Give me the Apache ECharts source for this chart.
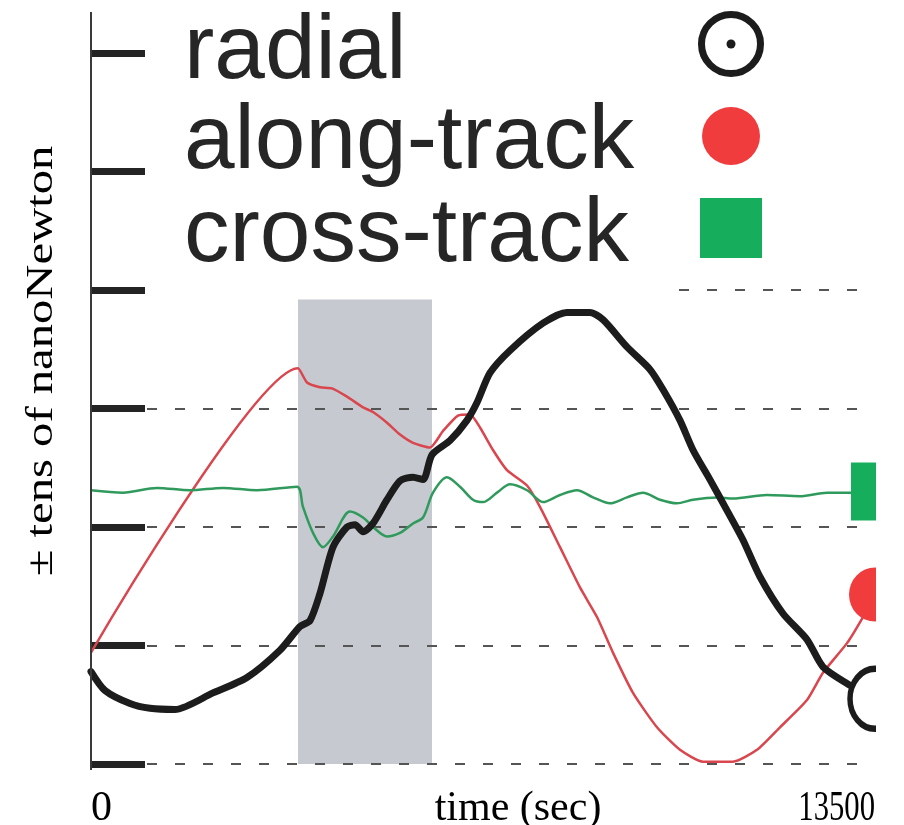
<!DOCTYPE html>
<html>
<head>
<meta charset="utf-8">
<script src="https://cdn.jsdelivr.net/npm/echarts@6/dist/echarts.min.js"></script>
<style>
  html, body { margin: 0; padding: 0; background: #fff; }
  #chart { width: 904px; height: 825px; }
</style>
</head>
<body>
<div id="chart"></div>
<script>
// --- data (time in sec, force in tens of nN) ---
const radial = [
    [0, -2.22], [241, -2.38], [672, -2.49], [1016, -2.53], [1446, -2.54], [2101, -2.40],
    [2686, -2.27], [3254, -2.04], [3599, -1.84], [3771, -1.79], [3943, -1.56], [4167, -1.17],
    [4408, -1.00], [4546, -0.98], [4684, -1.04], [4856, -0.97], [5097, -0.77], [5321, -0.61],
    [5545, -0.58], [5717, -0.60], [5872, -0.39], [6182, -0.27], [6474, -0.10], [6647, 0.05],
    [6870, 0.30], [7215, 0.49], [7783, 0.72], [8196, 0.81], [8592, 0.81], [8816, 0.75],
    [9229, 0.52], [9625, 0.33], [9849, 0.16], [10142, -0.10], [10366, -0.35], [10658, -0.60],
    [10951, -0.86], [11227, -1.11], [11519, -1.42], [11915, -1.73], [12329, -1.95],
    [12604, -2.18], [13018, -2.32], [13500, -2.45]
]
const alongTrack = [
    [0, -2.06], [3564, 0.34], [3719, 0.22], [3943, 0.18], [4150, 0.17], [4408, 0.10],
    [4684, 0.01], [4856, -0.03], [5097, -0.12], [5321, -0.22], [5545, -0.29], [5837, -0.33],
    [6061, -0.19], [6319, -0.06], [6526, -0.05], [6698, -0.16], [6922, -0.35], [7163, -0.52],
    [7508, -0.65], [7731, -0.83], [8076, -1.17], [8420, -1.51], [8713, -1.76], [8988, -2.06],
    [9333, -2.40], [9746, -2.69], [10142, -2.88], [10538, -2.98], [11054, -2.98], [11468, -2.88],
    [11864, -2.69], [12329, -2.46], [12604, -2.23], [13018, -1.98], [13293, -1.76], [13500, -1.57]
]
const crossTrack = [
    [0, -0.69], [551, -0.71], [1136, -0.67], [1705, -0.69], [2273, -0.67], [2858, -0.69],
    [3547, -0.66], [3650, -0.83], [3823, -1.05], [3995, -1.17], [4167, -1.08], [4460, -0.87],
    [4684, -0.92], [4856, -1.00], [5097, -1.08], [5321, -1.05], [5545, -0.97], [5717, -0.92],
    [5889, -0.71], [6130, -0.58], [6354, -0.66], [6578, -0.77], [6750, -0.79], [6991, -0.71],
    [7215, -0.64], [7508, -0.69], [7783, -0.79], [8076, -0.73], [8368, -0.69], [8644, -0.75],
    [8937, -0.80], [9229, -0.75], [9505, -0.71], [9798, -0.77], [10090, -0.80], [10366, -0.77],
    [10779, -0.75], [11054, -0.76], [11640, -0.73], [12208, -0.74], [12673, -0.71],
    [13070, -0.71], [13500, -0.70]
]
// shaded interval [start, end] in sec, and its vertical extent
const shadeX = [3564, 5872]
const shadeY = [0.92, -3.07]

const seriesNames = ['radial', 'along-track', 'cross-track']
const xTickLabels = ['0', '13500']
const xAxisName = 'time (sec)'
const yAxisName = '\u00b1 tens of nanoNewton'
const xMin = 0, xMax = 13500
const yMin = -3, yMax = 3, yStep = 1

// put a marker only on the last point of a series
function withEndMarker(arr, marker) {
    return arr.map((p, i) => i === arr.length - 1 ? Object.assign({value: p}, marker) : p)
}

const chart = echarts.init(document.getElementById('chart'))
const serif = 'Liberation Serif'
const sans = 'Liberation Sans'

const option = {
    animation: false,
    grid: {left: 91, right: 29, top: 53, bottom: 61},
    xAxis: {
        type: 'value', min: xMin, max: xMax,
        axisLine: {show: false}, axisTick: {show: false},
        axisLabel: {show: false}, splitLine: {show: false}
    },
    yAxis: {
        type: 'value', min: yMin, max: yMax, interval: yStep, z: 1.5,
        axisLine: {show: true, lineStyle: {color: '#3a3a3a', width: 2}},
        axisTick: {show: true, inside: true, length: 54, lineStyle: {color: '#242424', width: 7}},
        axisLabel: {show: false},
        splitLine: {show: true, lineStyle: {color: '#555', width: 2, type: [10, 18]}}
    },
    series: [
        {
            type: 'line', data: [], z: 1, silent: true,
            markArea: {
                silent: true,
                itemStyle: {color: '#c6cad0'},
                data: [[{xAxis: shadeX[0], yAxis: shadeY[0]}, {xAxis: shadeX[1], yAxis: shadeY[1]}]]
            },
            clip: false
        },
        {
            name: seriesNames[1], type: 'line', z: 2, smooth: 0.2,
            symbol: 'none',
            lineStyle: {color: '#d9464e', width: 2.5},
            data: withEndMarker(alongTrack, {symbol: 'circle', symbolSize: [52, 54], itemStyle: {color: '#f03c3c'}})
        },
        {
            name: seriesNames[2], type: 'line', z: 3, smooth: 0.3,
            symbol: 'none',
            lineStyle: {color: '#2f9a5c', width: 2.5},
            data: withEndMarker(crossTrack, {symbol: 'rect', symbolSize: [48, 58], itemStyle: {color: '#16ae5c'}})
        },
        {
            name: seriesNames[0], type: 'line', z: 4, smooth: 0.25,
            symbol: 'none',
            lineStyle: {color: '#1c1c1c', width: 7, cap: 'round', join: 'round'},
            data: withEndMarker(radial, {
                symbol: 'circle', symbolSize: [50, 60],
                itemStyle: {color: '#fff', borderColor: '#1c1c1c', borderWidth: 6}
            })
        }
    ],
    graphic: [
        // axis line runs a little past the top tick
        {type: 'line', z: 10, shape: {x1: 91, y1: 12, x2: 91, y2: 770}, style: {stroke: '#3a3a3a', lineWidth: 2}},
        // legend box background
        {type: 'rect', z: 50, shape: {x: 147, y: 0, width: 530, height: 299}, style: {fill: '#fff'}},
        {type: 'rect', z: 50, shape: {x: 677, y: 0, width: 193, height: 278}, style: {fill: '#fff'}},
        // clip the end markers at the right edge
        {type: 'rect', z: 100, shape: {x: 876, y: 0, width: 28, height: 825}, style: {fill: '#fff'}},
        // legend
        {type: 'text', z: 60, x: 184, y: 98, style: {text: seriesNames[0], font: '91px ' + sans, fill: '#262626', textVerticalAlign: 'bottom'}},
        {type: 'text', z: 60, x: 184, y: 188, style: {text: seriesNames[1], font: '91px ' + sans, fill: '#262626', textVerticalAlign: 'bottom'}},
        {type: 'text', z: 60, x: 184, y: 281, style: {text: seriesNames[2], font: '91px ' + sans, fill: '#262626', textVerticalAlign: 'bottom'}},
        {type: 'circle', z: 60, shape: {cx: 731, cy: 44, r: 29.5}, style: {fill: '#fff', stroke: '#1c1c1c', lineWidth: 7}},
        {type: 'circle', z: 61, shape: {cx: 731, cy: 44, r: 4.5}, style: {fill: '#1c1c1c'}},
        {type: 'circle', z: 60, shape: {cx: 731, cy: 136, r: 29}, style: {fill: '#f03c3c'}},
        {type: 'rect', z: 60, shape: {x: 700, y: 198, width: 62, height: 60}, style: {fill: '#16ae5c'}},
        // axis texts
        {type: 'text', z: 60, x: 91, y: 830, style: {text: xTickLabels[0], font: '42px ' + serif, fill: '#000', textAlign: 'left', textVerticalAlign: 'bottom'}},
        {type: 'text', z: 60, x: 875, y: 830, scaleX: 0.73, style: {text: xTickLabels[1], font: '42px ' + serif, fill: '#000', textAlign: 'right', textVerticalAlign: 'bottom'}},
        {type: 'text', z: 60, x: 518, y: 830, style: {text: xAxisName, font: '42px ' + serif, fill: '#000', textAlign: 'center', textVerticalAlign: 'bottom'}},
        {type: 'text', z: 60, x: 42, y: 361, rotation: Math.PI / 2, scaleX: 1.28, style: {text: yAxisName, font: '38px ' + serif, fill: '#000', textAlign: 'center', textVerticalAlign: 'middle'}}
    ]
}

chart.setOption(option)
</script>
</body>
</html>
